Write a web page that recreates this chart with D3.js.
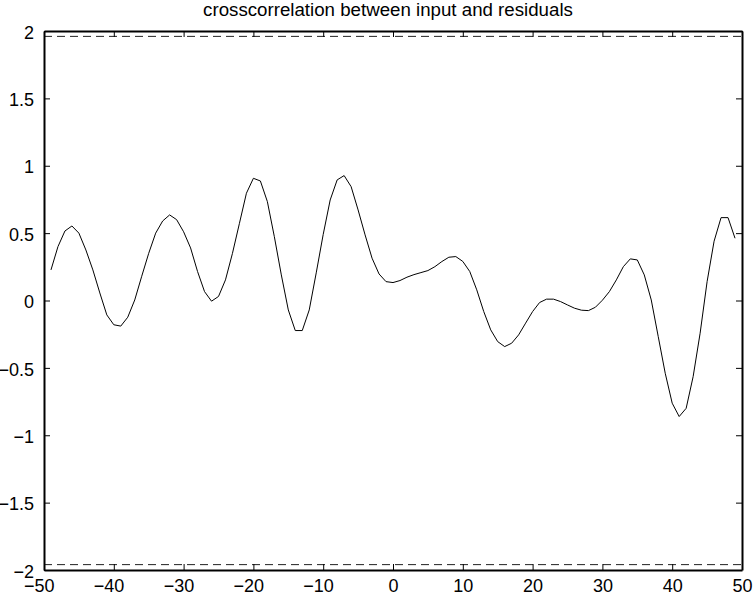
<!DOCTYPE html>
<html>
<head>
<meta charset="utf-8">
<script src="https://cdn.jsdelivr.net/npm/d3@7"></script>
<style>
  html, body { margin: 0; padding: 0; background: #fff; }
  svg { display: block; font-family: "Liberation Sans", Arial, sans-serif; }
</style>
</head>
<body>
<svg id="chart" width="754" height="602"></svg>
<script>
const titleText = "crosscorrelation between input and residuals";
const lags = [-49,-48,-47,-46,-45,-44,-43,-42,-41,-40,-39,-38,-37,-36,-35,-34,-33,-32,-31,-30,
  -29,-28,-27,-26,-25,-24,-23,-22,-21,-20,-19,-18,-17,-16,-15,-14,-13,-12,-11,-10,
  -9,-8,-7,-6,-5,-4,-3,-2,-1,0,1,2,3,4,5,6,7,8,9,10,
  11,12,13,14,15,16,17,18,19,20,21,22,23,24,25,26,27,28,29,30,
  31,32,33,34,35,36,37,38,39,40,41,42,43,44,45,46,47,48,49];
const xcorr = [0.227,0.40,0.516,0.553,0.50,0.375,0.227,0.056,-0.107,-0.18,
  -0.19,-0.124,0.004,0.18,0.35,0.50,0.59,0.635,0.60,0.51,
  0.39,0.215,0.066,-0.005,0.03,0.153,0.35,0.573,0.796,0.907,
  0.887,0.734,0.474,0.19,-0.07,-0.223,-0.223,-0.07,0.205,0.49,
  0.746,0.895,0.927,0.845,0.672,0.487,0.314,0.197,0.14,0.133,
  0.148,0.173,0.192,0.207,0.222,0.251,0.289,0.321,0.326,0.29,
  0.215,0.079,-0.082,-0.218,-0.305,-0.342,-0.317,-0.255,-0.168,-0.082,
  -0.015,0.01,0.01,-0.008,-0.033,-0.057,-0.072,-0.075,-0.05,0.002,
  0.066,0.153,0.251,0.309,0.301,0.19,0.004,-0.268,-0.54,-0.762,
  -0.861,-0.80,-0.565,-0.243,0.14,0.44,0.615,0.615,0.462];
const confBound = [1.96, -1.96];
const xTicks = [-50,-40,-30,-20,-10,0,10,20,30,40,50];
const yTicks = [-2,-1.5,-1,-0.5,0,0.5,1,1.5,2];

(function () {
const svg = d3.select("#chart");
const mL = 44, mR = 742, mT = 31, mB = 570;
const x = d3.scaleLinear().domain([-50, 50]).range([mL, mR]);
const y = d3.scaleLinear().domain([-2, 2]).range([mB, mT]);
const fmt = d => d3.format("")(d).replace("-", "\u2212");

// confidence bounds
svg.append("g").selectAll("line").data(confBound).join("line")
  .attr("x1", x(-50)).attr("x2", x(50))
  .attr("y1", d => y(d)).attr("y2", d => y(d))
  .attr("stroke", "#222").attr("stroke-width", 1)
  .attr("stroke-dasharray", "8,5");

// data line
svg.append("path")
  .datum(lags.map((l, i) => [l, xcorr[i]]))
  .attr("fill", "none").attr("stroke", "#000").attr("stroke-width", 1)
  .attr("d", d3.line().x(d => x(d[0])).y(d => y(d[1])));

// axes (inward ticks on all sides)
const tl = 6;
const gB = svg.append("g").attr("transform", `translate(0,${mB})`)
  .call(d3.axisBottom(x).tickValues(xTicks).tickSizeInner(-tl).tickSizeOuter(0).tickPadding(tl + 3).tickFormat(fmt));
const gT = svg.append("g").attr("transform", `translate(0,${mT})`)
  .call(d3.axisTop(x).tickValues(xTicks).tickSizeInner(-tl).tickSizeOuter(0).tickFormat(""));
const gL = svg.append("g").attr("transform", `translate(${mL},0)`)
  .call(d3.axisLeft(y).tickValues(yTicks).tickSizeInner(-tl).tickSizeOuter(0).tickPadding(tl + 4).tickFormat(fmt));
const gR = svg.append("g").attr("transform", `translate(${mR},0)`)
  .call(d3.axisRight(y).tickValues(yTicks).tickSizeInner(-tl).tickSizeOuter(0).tickFormat(""));

[gB, gT, gL, gR].forEach(g => {
  g.select(".domain").attr("stroke", "#000").attr("stroke-width", 2);
  g.selectAll(".tick line").attr("stroke", "#000").attr("stroke-width", 1);
  g.selectAll("text").attr("fill", "#000").attr("font-size", 18)
    .attr("font-family", '"Liberation Sans", Arial, sans-serif');
});
// negative x labels: center digits on tick (minus hangs left)
gB.selectAll(".tick text").attr("dx", d => d < 0 ? -5.2 : 0);
gL.selectAll(".tick text").attr("dy", "0.4em");

svg.append("text")
  .attr("x", 388).attr("y", 16)
  .attr("text-anchor", "middle").attr("font-size", 18.7).attr("fill", "#000")
  .text(titleText);
})();
</script>
</body>
</html>
